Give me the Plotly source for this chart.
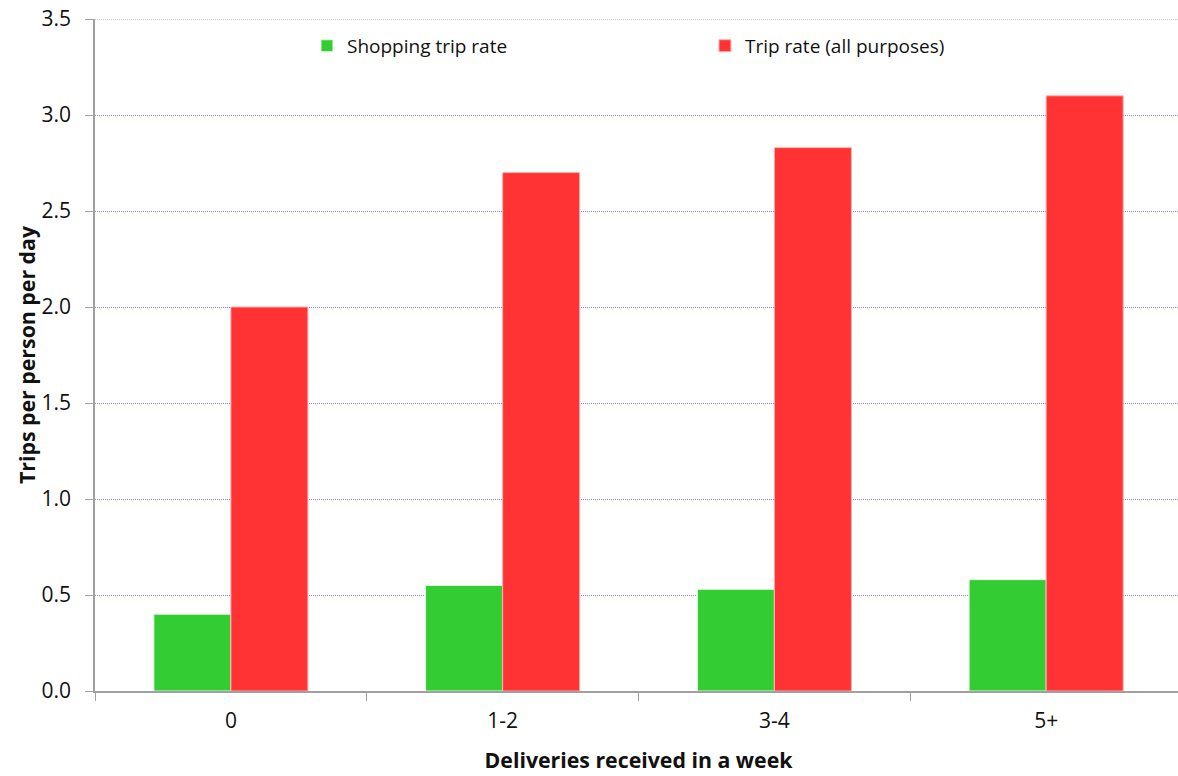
import plotly.graph_objects as go

categories = ["0", "1-2", "3-4", "5+"]
shopping = [0.40, 0.55, 0.53, 0.58]
all_purposes = [2.00, 2.70, 2.83, 3.10]
y_ticks = [0.0, 0.5, 1.0, 1.5, 2.0, 2.5, 3.0, 3.5]
y_ticktext = ["0.0", "0.5", "1.0", "1.5", "2.0", "2.5", "3.0", "3.5"]

FONT = "Open Sans"
GRID = "#8f80f5"

fig = go.Figure()
fig.add_trace(go.Bar(
    x=categories, y=shopping, name="Shopping trip rate",
    marker=dict(color="#33cc33", line=dict(color="#e8f8e8", width=1)),
))
fig.add_trace(go.Bar(
    x=categories, y=all_purposes, name="Trip rate (all purposes)",
    marker=dict(color="#ff3333", line=dict(color="#ffb0b0", width=1)),
))

# top gridline (plotly skips gridlines at the plot edge)
fig.add_shape(type="line", xref="paper", x0=0, x1=1, yref="y", y0=y_ticks[-1], y1=y_ticks[-1],
              line=dict(color=GRID, width=1, dash="1px,1px"), layer="below")

fig.update_layout(
    width=1182, height=776,
    margin=dict(l=95, r=0, t=19, b=85, autoexpand=False),
    paper_bgcolor="white", plot_bgcolor="white",
    barmode="group", bargap=0.433, bargroupgap=0,
    font=dict(family=FONT, color="#111111", size=18),
    legend=dict(
        orientation="h", x=0.195, xanchor="left", y=0.96, yanchor="middle",
        font=dict(size=19, family=FONT, color="#111111"), entrywidth=353, entrywidthmode="pixels",
        bgcolor="rgba(0,0,0,0)", itemclick=False,
    ),
    xaxis=dict(
        automargin=False,
        showline=True, linecolor="#a0a0a0", linewidth=1.5,
        ticks="outside", tickson="boundaries", ticklen=8, tickcolor="#a0a0a0",
        tickfont=dict(size=21, family=FONT), ticklabelstandoff=10,
        title=dict(text="<b>Deliveries received in a week</b>", font=dict(size=21.3, family=FONT), standoff=20),
        showgrid=False,
    ),
    yaxis=dict(
        automargin=False,
        range=[0, 3.5], tickvals=y_ticks, ticktext=y_ticktext,
        showline=True, linecolor="#a0a0a0", linewidth=1.5,
        ticks="outside", ticklen=8, tickcolor="#a0a0a0",
        tickfont=dict(size=21, family=FONT), ticklabelstandoff=10, ticklabeloverflow="allow",
        showgrid=True, gridcolor=GRID, griddash="1px,1px", gridwidth=1,
        zeroline=False,
        title=dict(text="<b>Trips per person per day</b>", font=dict(size=21.3, family=FONT), standoff=0),
    ),
)

fig.write_html("out.html", config={"displayModeBar": False},
               post_script="document.body.style.margin='0';")
